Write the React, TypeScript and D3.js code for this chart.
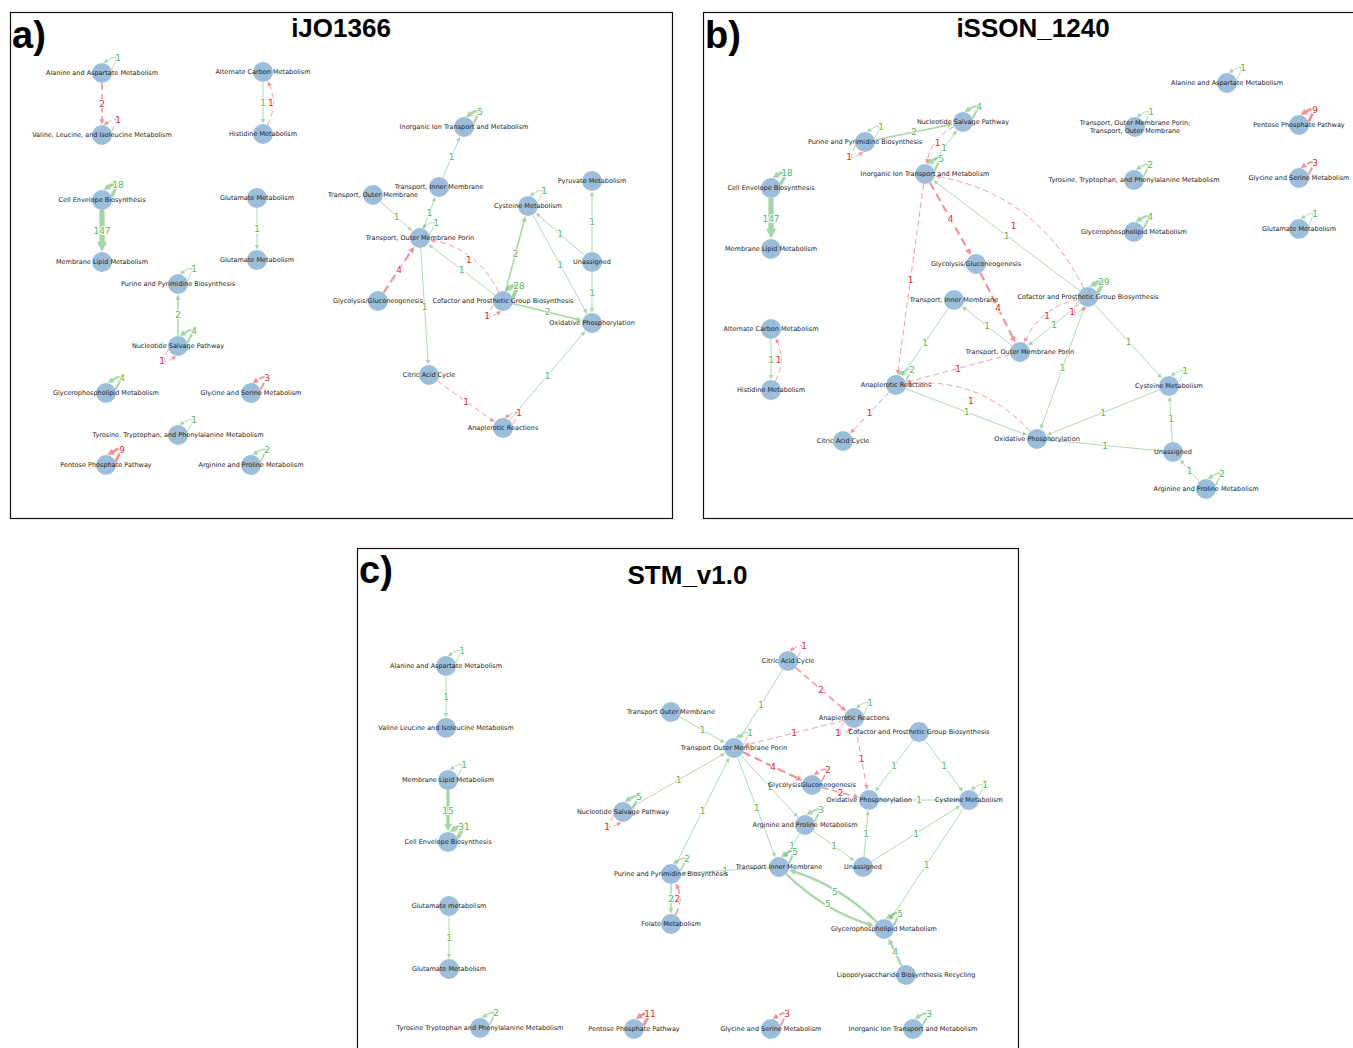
import React from 'react';
import * as d3 from 'd3';

type N = [string, string, number, number];
type E = [string, string, number, number];

// ---------- Panel a : iJO1366 ----------
const nodesA: N[] = [
  ['ala', 'Alanine and Aspartate Metabolism', 92, 61],
  ['val', 'Valine, Leucine, and Isoleucine Metabolism', 92, 123],
  ['alt', 'Alternate Carbon Metabolism', 253, 60],
  ['his', 'Histidine Metabolism', 253, 122],
  ['cell', 'Cell Envelope Biosynthesis', 92, 188],
  ['mem', 'Membrane Lipid Metabolism', 92, 250],
  ['glu1', 'Glutamate Metabolism', 247, 186],
  ['glu2', 'Glutamate Metabolism', 247, 248],
  ['pur', 'Purine and Pyrimidine Biosynthesis', 168, 272],
  ['nuc', 'Nucleotide Salvage Pathway', 168, 334],
  ['gpl', 'Glycerophospholipid Metabolism', 96, 381],
  ['gly', 'Glycine and Serine Metabolism', 241, 381],
  ['tyr', 'Tyrosine, Tryptophan, and Phenylalanine Metabolism', 168, 423],
  ['pen', 'Pentose Phosphate Pathway', 96, 453],
  ['arg', 'Arginine and Proline Metabolism', 241, 453],
  ['ino', 'Inorganic Ion Transport and Metabolism', 454, 115],
  ['tim', 'Transport, Inner Membrane', 429, 175],
  ['tom', 'Transport, Outer Membrane', 363, 183],
  ['por', 'Transport, Outer Membrane Porin', 410, 226],
  ['cys', 'Cysteine Metabolism', 518, 194],
  ['pyr', 'Pyruvate Metabolism', 582, 169],
  ['una', 'Unassigned', 582, 250],
  ['glc', 'Glycolysis/Gluconeogenesis', 368, 289],
  ['cof', 'Cofactor and Prosthetic Group Biosynthesis', 493, 289],
  ['oxp', 'Oxidative Phosphorylation', 582, 311],
  ['cit', 'Citric Acid Cycle', 419, 363],
  ['ana', 'Anaplerotic Reactions', 493, 416],
];
const edgesA: E[] = [
  ['ala', 'ala', 1, 1], ['ala', 'val', 2, -1], ['val', 'val', 1, -1],
  ['alt', 'his', 1, 1], ['his', 'alt', 1, -1],
  ['cell', 'cell', 18, 1], ['cell', 'mem', 147, 1],
  ['glu1', 'glu2', 1, 1],
  ['pur', 'pur', 1, 1], ['nuc', 'pur', 2, 1], ['nuc', 'nuc', 4, 1], ['nuc', 'nuc', 1, -1],
  ['gpl', 'gpl', 4, 1], ['gly', 'gly', 3, -1], ['tyr', 'tyr', 1, 1], ['pen', 'pen', 9, -1], ['arg', 'arg', 2, 1],
  ['ino', 'ino', 5, 1], ['tim', 'ino', 1, 1], ['tom', 'por', 1, 1], ['por', 'tim', 1, 1], ['por', 'por', 1, 1],
  ['glc', 'por', 4, -1], ['cof', 'por', 1, 1], ['cof', 'por', 1, -1], ['por', 'cit', 1, 1],
  ['cof', 'cys', 2, 1], ['cof', 'cof', 28, 1], ['cof', 'cof', 1, -1], ['cys', 'cys', 1, 1],
  ['cys', 'oxp', 1, 1], ['una', 'cys', 1, 1], ['una', 'pyr', 1, 1], ['una', 'oxp', 1, 1], ['cof', 'oxp', 2, 1],
  ['ana', 'oxp', 1, 1], ['cit', 'ana', 1, -1], ['ana', 'ana', 1, -1],
];

// ---------- Panel b : iSSON_1240 ----------
const nodesB: N[] = [
  ['nuc', 'Nucleotide Salvage Pathway', 260, 110],
  ['pur', 'Purine and Pyrimidine Biosynthesis', 162, 130],
  ['ino', 'Inorganic Ion Transport and Metabolism', 222, 162],
  ['cell', 'Cell Envelope Biosynthesis', 68, 176],
  ['mem', 'Membrane Lipid Metabolism', 68, 237],
  ['glc', 'Glycolysis/Gluconeogenesis', 273, 252],
  ['tim', 'Transport, Inner Membrane', 251, 288],
  ['alt', 'Alternate Carbon Metabolism', 68, 317],
  ['his', 'Histidine Metabolism', 68, 378],
  ['ana', 'Anaplerotic Reactions', 193, 373],
  ['cit', 'Citric Acid Cycle', 140, 429],
  ['por', 'Transport, Outer Membrane Porin', 317, 340],
  ['oxp', 'Oxidative Phosphorylation', 334, 427],
  ['cof', 'Cofactor and Prosthetic Group Biosynthesis', 385, 285],
  ['cys', 'Cysteine Metabolism', 466, 374],
  ['una', 'Unassigned', 470, 440],
  ['arg', 'Arginine and Proline Metabolism', 503, 477],
  ['ala', 'Alanine and Aspartate Metabolism', 524, 71],
  ['tpt', 'Transport, Outer Membrane Porin;\nTransport, Outer Membrane', 432, 115],
  ['pen', 'Pentose Phosphate Pathway', 596, 113],
  ['tyr', 'Tyrosine, Tryptophan, and Phenylalanine Metabolism', 431, 168],
  ['gly', 'Glycine and Serine Metabolism', 596, 166],
  ['gpl', 'Glycerophospholipid Metabolism', 431, 220],
  ['glu', 'Glutamate Metabolism', 596, 217],
];
const edgesB: E[] = [
  ['nuc', 'nuc', 4, 1], ['pur', 'pur', 1, 1], ['pur', 'pur', 1, -1], ['pur', 'nuc', 2, 1],
  ['ino', 'nuc', 1, 1], ['nuc', 'ino', 1, -1], ['ino', 'ino', 5, 1],
  ['cell', 'cell', 18, 1], ['cell', 'mem', 147, 1],
  ['ino', 'glc', 4, -1], ['glc', 'por', 4, -1], ['ino', 'ana', 1, -1],
  ['cof', 'ino', 1, 1], ['cof', 'ino', 1, -1],
  ['alt', 'his', 1, 1], ['his', 'alt', 1, -1],
  ['por', 'tim', 1, 1], ['tim', 'ana', 1, 1], ['por', 'ana', 1, -1], ['ana', 'ana', 2, 1], ['ana', 'cit', 1, -1],
  ['ana', 'oxp', 1, 1], ['oxp', 'ana', 1, -1],
  ['cof', 'por', 1, 1], ['cof', 'por', 1, -1], ['cof', 'cof', 29, 1], ['cof', 'cof', 1, -1],
  ['cof', 'oxp', 1, 1], ['cof', 'cys', 1, 1], ['cys', 'cys', 1, 1], ['cys', 'oxp', 1, 1],
  ['una', 'cys', 1, 1], ['una', 'oxp', 1, 1], ['arg', 'una', 1, 1], ['arg', 'arg', 2, 1],
  ['ala', 'ala', 1, 1], ['tpt', 'tpt', 1, 1], ['pen', 'pen', 9, -1], ['tyr', 'tyr', 2, 1],
  ['gly', 'gly', 3, -1], ['gpl', 'gpl', 4, 1], ['glu', 'glu', 1, 1],
];

// ---------- Panel c : STM_v1.0 ----------
const nodesC: N[] = [
  ['ala', 'Alanine and Aspartate Metabolism', 89, 118],
  ['val', 'Valine Leucine and Isoleucine Metabolism', 89, 180],
  ['mem', 'Membrane Lipid Metabolism', 91, 232],
  ['cell', 'Cell Envelope Biosynthesis', 91, 294],
  ['glu1', 'Glutamate metabolism', 92, 358],
  ['glu2', 'Glutamate Metabolism', 92, 421],
  ['tyr', 'Tyrosine Tryptophan and Phenylalanine Metabolism', 123, 480],
  ['cit', 'Citric Acid Cycle', 431, 113],
  ['tom', 'Transport Outer Membrane', 314, 164],
  ['ana', 'Anaplerotic Reactions', 497, 170],
  ['cof', 'Cofactor and Prosthetic Group Biosynthesis', 562, 184],
  ['por', 'Transport Outer Membrane Porin', 377, 200],
  ['nuc', 'Nucleotide Salvage Pathway', 266, 264],
  ['glc', 'GlycolysisGluconeogenesis', 455, 237],
  ['oxp', 'Oxidative Phosphorylation', 512, 252],
  ['cys', 'Cysteine Metabolism', 612, 252],
  ['arg', 'Arginine and Proline Metabolism', 448, 277],
  ['pur', 'Purine and Pyrimidine Biosynthesis', 314, 326],
  ['tim', 'Transport Inner Membrane', 422, 319],
  ['una', 'Unassigned', 506, 319],
  ['fol', 'Folate Metabolism', 314, 376],
  ['gpl', 'Glycerophospholipid Metabolism', 527, 381],
  ['lps', 'Lipopolysaccharide Biosynthesis Recycling', 549, 427],
  ['pen', 'Pentose Phosphate Pathway', 277, 481],
  ['gly', 'Glycine and Serine Metabolism', 414, 481],
  ['ino', 'Inorganic Ion Transport and Metabolism', 556, 481],
];
const edgesC: E[] = [
  ['ala', 'ala', 1, 1], ['ala', 'val', 1, 1], ['mem', 'mem', 1, 1], ['mem', 'cell', 15, 1], ['cell', 'cell', 31, 1],
  ['glu1', 'glu2', 1, 1], ['tyr', 'tyr', 2, 1],
  ['cit', 'cit', 1, -1], ['cit', 'por', 1, 1], ['cit', 'ana', 2, -1], ['tom', 'por', 1, 1],
  ['ana', 'ana', 1, 1], ['ana', 'ana', 1, -1], ['ana', 'por', 1, -1], ['ana', 'oxp', 1, -1],
  ['por', 'por', 1, 1], ['por', 'glc', 4, -1], ['glc', 'glc', 2, -1], ['glc', 'oxp', 2, -1],
  ['cof', 'oxp', 1, 1], ['cof', 'cys', 1, 1], ['oxp', 'cys', 1, 1], ['cys', 'cys', 1, 1],
  ['nuc', 'por', 1, 1], ['nuc', 'nuc', 5, 1], ['nuc', 'nuc', 1, -1], ['pur', 'por', 1, 1],
  ['por', 'tim', 1, 1], ['por', 'arg', 1, 1], ['arg', 'arg', 3, 1], ['arg', 'una', 1, 1], ['arg', 'tim', 1, 1],
  ['tim', 'tim', 5, 1], ['una', 'oxp', 1, 1], ['una', 'cys', 1, 1], ['cys', 'gpl', 1, 1],
  ['tim', 'pur', 1, 1], ['pur', 'pur', 2, 1], ['pur', 'fol', 2, 1], ['fol', 'pur', 2, -1],
  ['tim', 'gpl', 5, 1], ['gpl', 'tim', 5, 1], ['gpl', 'gpl', 5, 1], ['lps', 'gpl', 4, 1],
  ['pen', 'pen', 11, -1], ['gly', 'gly', 3, -1], ['ino', 'ino', 3, 1],
];

const panels = [
  { key: 'a', x: 10, y: 12, w: 662, h: 506, letter: 'a)', title: 'iJO1366', letterDy: 36, titleDy: 25, nodes: nodesA, edges: edgesA },
  { key: 'b', x: 703, y: 12, w: 660, h: 506, letter: 'b)', title: 'iSSON_1240', letterDy: 36, titleDy: 25, nodes: nodesB, edges: edgesB },
  { key: 'c', x: 357, y: 548, w: 661, h: 520, letter: 'c)', title: 'STM_v1.0', letterDy: 35, titleDy: 36, nodes: nodesC, edges: edgesC },
];

const R = 10;
const POS = '#2ca02c';
const NEG = '#e8262c';
const POS_TXT = '#55b955';
const NEG_TXT = '#e8262c';
const NODE_FILL = '#9dbedb';
const widthOf = (w: number) => 0.9 + 0.6 * Math.log2(w);

function unit(x: number, y: number) {
  const l = Math.hypot(x, y) || 1;
  return [x / l, y / l];
}

function arrowPts(tx: number, ty: number, ux: number, uy: number, sw: number) {
  const L = 3.5 + 1.2 * sw;
  const H = 1.5 + 0.7 * sw;
  const bx = tx - L * ux, by = ty - L * uy;
  const nx = -uy, ny = ux;
  return {
    pts: `${tx},${ty} ${bx + H * nx},${by + H * ny} ${bx - H * nx},${by - H * ny}`,
    ex: tx - 0.6 * L * ux,
    ey: ty - 0.6 * L * uy,
  };
}

function Panel({ p }: { p: typeof panels[number] }) {
  const sx = d3.scaleLinear().domain([0, p.w]).range([p.x, p.x + p.w]);
  const sy = d3.scaleLinear().domain([0, p.h]).range([p.y, p.y + p.h]);
  const pos = new Map<string, { x: number; y: number; label: string }>();
  p.nodes.forEach((n) => pos.set(n[0], { x: sx(n[2]), y: sy(n[3]), label: n[1] }));

  const pairKey = (a: string, b: string) => (a < b ? a + '|' + b : b + '|' + a);
  const groups = new Map<string, E[]>();
  p.edges.forEach((e) => {
    if (e[0] === e[1]) return;
    const k = pairKey(e[0], e[1]);
    if (!groups.has(k)) groups.set(k, []);
    groups.get(k)!.push(e);
  });

  const loopCount = new Map<string, number>();
  const edgeEls: React.ReactNode[] = [];
  const labelEls: React.ReactNode[] = [];

  p.edges.forEach((e, i) => {
    const [s, t, w, sign] = e;
    const a = pos.get(s)!, b = pos.get(t)!;
    const sw = widthOf(w);
    const col = sign > 0 ? POS : NEG;
    const op = sign > 0 ? 0.42 : 0.5;
    const dash = sign > 0 ? undefined : `${4 + sw * 2},${2.5 + sw}`;
    let pathD = '';
    let arrow = '';
    let lx = 0, ly = 0;
    if (s === t) {
      const k = loopCount.get(s) || 0;
      loopCount.set(s, k + 1);
      const dir = k === 0 ? 1 : -1;
      const st = [a.x + dir * 9.4, a.y - dir * 3.4];
      const c = [a.x + dir * 21, a.y - dir * 23];
      const tip = [a.x + dir * 1.7, a.y - dir * 9.9];
      const [ux, uy] = unit(tip[0] - c[0], tip[1] - c[1]);
      const ar = arrowPts(tip[0], tip[1], ux, uy, Math.min(sw, 2.5));
      arrow = ar.pts;
      pathD = `M${st[0]},${st[1]} Q${c[0]},${c[1]} ${ar.ex},${ar.ey}`;
      lx = a.x + dir * 16;
      ly = a.y - dir * 15;
    } else {
      const grp = groups.get(pairKey(s, t))!;
      let bend = 0;
      if (grp.length > 1) {
        const mixed = grp.some((g) => g[3] !== sign);
        bend = mixed ? (sign < 0 ? 0.25 : 0) : 0.12;
      }
      const dx = b.x - a.x, dy = b.y - a.y;
      const dist = Math.hypot(dx, dy);
      const mx = (a.x + b.x) / 2, my = (a.y + b.y) / 2;
      if (bend === 0) {
        const [ux, uy] = unit(dx, dy);
        const st = [a.x + R * ux, a.y + R * uy];
        const tip = [b.x - (R + 0.5) * ux, b.y - (R + 0.5) * uy];
        const ar = arrowPts(tip[0], tip[1], ux, uy, sw);
        arrow = ar.pts;
        pathD = `M${st[0]},${st[1]} L${ar.ex},${ar.ey}`;
        lx = mx;
        ly = my;
      } else {
        const cx = mx - bend * dy, cy = my + bend * dx;
        const [u1x, u1y] = unit(cx - a.x, cy - a.y);
        const [u2x, u2y] = unit(cx - b.x, cy - b.y);
        const st = [a.x + R * u1x, a.y + R * u1y];
        const tip = [b.x + (R + 0.5) * u2x, b.y + (R + 0.5) * u2y];
        const [ux, uy] = unit(tip[0] - cx, tip[1] - cy);
        const ar = arrowPts(tip[0], tip[1], ux, uy, sw);
        arrow = ar.pts;
        pathD = `M${st[0]},${st[1]} Q${cx},${cy} ${ar.ex},${ar.ey}`;
        const off = Math.min((bend * dist) / 2, 12);
        const [px, py] = unit(-dy, dx);
        lx = mx + off * px;
        ly = my + off * py;
      }
    }
    edgeEls.push(
      <g key={'e' + i} opacity={op}>
        <path d={pathD} fill="none" stroke={col} strokeWidth={sw} strokeDasharray={dash} />
        <polygon points={arrow} fill={col} />
      </g>
    );
    labelEls.push(
      <text
        key={'l' + i}
        x={lx}
        y={ly}
        textAnchor="middle"
        dominantBaseline="central"
        fontSize={9}
        fontFamily="DejaVu Sans, sans-serif"
        fill={sign > 0 ? POS_TXT : NEG_TXT}
        stroke="#fff"
        strokeWidth={2}
        paintOrder="stroke"
      >
        {w}
      </text>
    );
  });

  return (
    <g>
      <rect x={p.x + 0.5} y={p.y + 0.5} width={p.w} height={p.h} fill="#fff" stroke="#111" strokeWidth={1.2} />
      <text x={p.x + 2} y={p.y + p.letterDy} fontSize={38} fontWeight="bold" fontFamily="Liberation Sans, Arial, sans-serif" fill="#000">
        {p.letter}
      </text>
      <text x={p.x + p.w / 2} y={p.y + p.titleDy} textAnchor="middle" fontSize={26} fontWeight="bold" fontFamily="Liberation Sans, Arial, sans-serif" fill="#000">
        {p.title}
      </text>
      {edgeEls}
      {p.nodes.map((n) => {
        const q = pos.get(n[0])!;
        return <circle key={'n' + n[0]} cx={q.x} cy={q.y} r={R} fill={NODE_FILL} />;
      })}
      {labelEls}
      {p.nodes.map((n) => {
        const q = pos.get(n[0])!;
        const lines = n[1].split('\n');
        return (
          <text
            key={'t' + n[0]}
            x={q.x}
            y={q.y}
            textAnchor="middle"
            dominantBaseline="central"
            fontSize={6.5}
            fontFamily="DejaVu Sans, sans-serif"
            fill="#1c1c1c"
          >
            {lines.length === 1
              ? n[1]
              : lines.map((ln, j) => (
                  <tspan key={j} x={q.x} y={q.y + (j - (lines.length - 1) / 2) * 8}>
                    {ln}
                  </tspan>
                ))}
          </text>
        );
      })}
    </g>
  );
}

export default function App() {
  return (
    <svg
      width={1353}
      height={1048}
      viewBox="0 0 1353 1048"
      style={{ position: 'absolute', left: 0, top: 0, background: '#fff' }}
    >
      <rect x={0} y={0} width={1353} height={1048} fill="#fff" />
      {panels.map((p) => (
        <Panel key={p.key} p={p} />
      ))}
    </svg>
  );
}
